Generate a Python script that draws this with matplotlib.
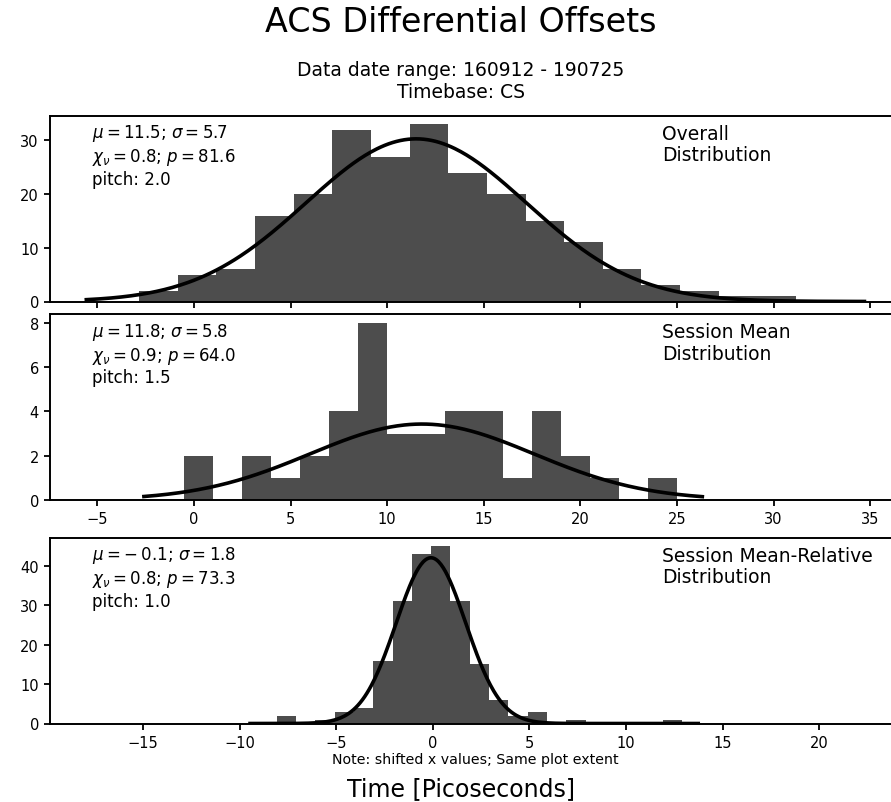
import numpy as np
import matplotlib
matplotlib.use("Agg")
import matplotlib.pyplot as plt

# ---- data ---------------------------------------------------------------
# Overall distribution (pitch 2.0)
overall_counts = [2, 5, 6, 16, 20, 32, 27, 33, 24, 20, 15, 11, 6, 3, 2, 1, 1]
overall_edge0 = -2.84
overall_pitch = 2.0
overall_mu, overall_sigma, overall_amp = 11.5, 5.7, 30.3
overall_chi, overall_p = 0.8, 81.6
overall_fit_range = (-5.57, 34.7)

# Session mean distribution (pitch 1.5)
session_counts = [2, 0, 2, 1, 2, 4, 8, 3, 3, 4, 4, 1, 4, 2, 1, 0, 1]
session_edge0 = -0.51
session_pitch = 1.5
session_mu, session_sigma, session_amp = 11.8, 5.8, 3.43
session_chi, session_p = 0.9, 64.0
session_fit_range = (-2.59, 26.31)

# Session mean-relative distribution (pitch 1.0)
relative_counts = [2, 0, 1, 3, 4, 16, 31, 43, 45, 31, 15, 6, 2, 3, 0, 1, 0, 0, 0, 0, 1]
relative_edge0 = -8.09
relative_pitch = 1.0
relative_mu, relative_sigma, relative_amp = -0.1, 1.8, 42.1
relative_chi, relative_p = 0.8, 73.3
relative_fit_range = (-9.47, 13.74)

upper_xlim = (-7.45, 36.54)
lower_xlim = (-19.83, 24.19)
upper_xticks = [-5, 0, 5, 10, 15, 20, 25, 30, 35]
lower_xticks = [-15, -10, -5, 0, 5, 10, 15, 20]

panel_names = ["Overall\nDistribution", "Session Mean\nDistribution",
               "Session Mean-Relative\nDistribution"]

BAR = "#4d4d4d"

fig = plt.figure(figsize=(8.91, 8.03), dpi=100)

W, H = 891.0, 803.0
left = 50 / W
width = (900 - 50) / W
ax_h = 186 / H
ax1 = fig.add_axes([left, 1 - 302.5 / H, width, ax_h])
ax2 = fig.add_axes([left, 1 - 501.0 / H, width, ax_h])
ax3 = fig.add_axes([left, 1 - 724.5 / H, width, ax_h])


def fmt(v):
    s = f"{abs(v):.1f}"
    return r"-\:" + s if v < 0 else s


def draw_panel(ax, counts, edge0, pitch, mu, sigma, amp, chi, p, fit_range,
               name, yticks):
    counts = np.asarray(counts, dtype=float)
    edges = edge0 + pitch * np.arange(len(counts))
    ax.bar(edges, counts, width=pitch, align="edge", color=BAR, linewidth=0)
    x = np.linspace(fit_range[0], fit_range[1], 400)
    ax.plot(x, amp * np.exp(-0.5 * ((x - mu) / sigma) ** 2), color="black", lw=2.6)
    ax.set_ylim(0, counts.max() * 1.05)
    ax.set_yticks(yticks)
    stats = (r"$\mu=%s$; $\sigma=%s$" % (fmt(mu), fmt(sigma)) + "\n"
             + r"$\chi_\nu=%s$; $p=%s$" % (fmt(chi), fmt(p)) + "\n"
             + f"pitch: {pitch:.1f}")
    ax.text(0.049, 0.965, stats, transform=ax.transAxes, ha="left", va="top",
            fontsize=12, linespacing=1.2)
    ax.text(0.72, 0.955, name, transform=ax.transAxes, ha="left", va="top",
            fontsize=13.5, linespacing=1.15)
    for s in ax.spines.values():
        s.set_linewidth(1.4)
    ax.tick_params(width=1.3, length=4.5, labelsize=10.5)


draw_panel(ax1, overall_counts, overall_edge0, overall_pitch, overall_mu,
           overall_sigma, overall_amp, overall_chi, overall_p,
           overall_fit_range, panel_names[0], [0, 10, 20, 30])
draw_panel(ax2, session_counts, session_edge0, session_pitch, session_mu,
           session_sigma, session_amp, session_chi, session_p,
           session_fit_range, panel_names[1], [0, 2, 4, 6, 8])
draw_panel(ax3, relative_counts, relative_edge0, relative_pitch, relative_mu,
           relative_sigma, relative_amp, relative_chi, relative_p,
           relative_fit_range, panel_names[2], [0, 10, 20, 30, 40])

for ax in (ax1, ax2):
    ax.set_xlim(*upper_xlim)
    ax.set_xticks(upper_xticks)
ax1.tick_params(labelbottom=False)
ax3.set_xlim(*lower_xlim)
ax3.set_xticks(lower_xticks)

ax3.text(0.5, -0.19, "Note: shifted x values; Same plot extent",
         transform=ax3.transAxes, ha="center", va="center", fontsize=10.2)

cx = 461 / W
fig.text(cx, 1 - 23 / H, "ACS Differential Offsets", ha="center", va="center",
         fontsize=24)
fig.text(cx, 1 - 82 / H, "Data date range: 160912 - 190725\nTimebase: CS",
         ha="center", va="center", fontsize=13.5, linespacing=1.2)
fig.text(cx, 1 - 789 / H, "Time [Picoseconds]", ha="center", va="center",
         fontsize=17)

fig.savefig("out.png", dpi=100)
